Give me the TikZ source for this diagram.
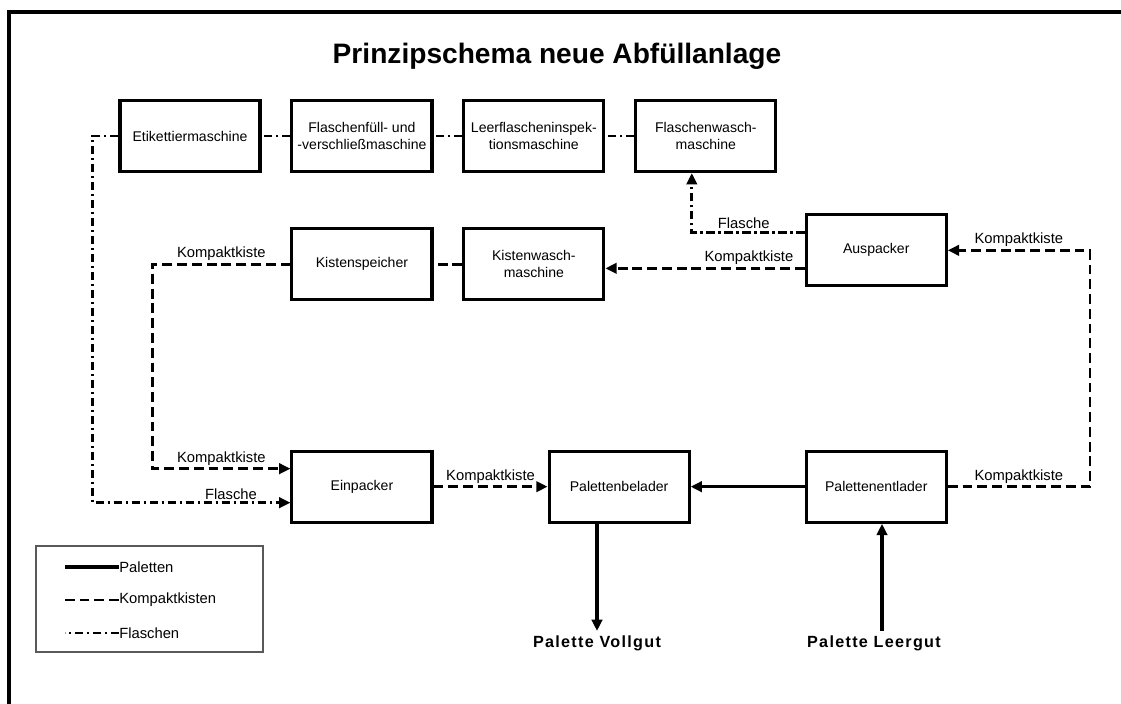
\documentclass[tikz,border=0pt]{standalone}
\usepackage{fontspec}
\setmainfont{Liberation Sans}
\newfontfamily\sperrfont[LetterSpace=8.0]{Liberation Sans}
\usetikzlibrary{arrows.meta, positioning}
\tikzset{
  maschine/.style={rectangle, draw, line width=2.2pt, minimum width=3.5cm, minimum height=1.78cm,
                   align=center, inner sep=2pt, font=\fontsize{10}{12}\selectfont},
  fluss/.style={line width=1.9pt},
  paletten/.style={line width=2.5pt},
  kisten/.style={fluss, dash pattern=on 7pt off 3.5pt},
  flaschen/.style={fluss, dash pattern=on 6pt off 2.5pt on 1.8pt off 2.5pt},
  pfeil/.style={-{Triangle[length=2.8mm, width=2.6mm]}},
  beschr/.style={font=\fontsize{10.5}{12}\selectfont, inner sep=1.5pt},
  ziel/.style={font=\sperrfont\bfseries\fontsize{11.5}{13}\selectfont, inner sep=3pt},
  legende/.style={font=\fontsize{10.5}{12}\selectfont, inner sep=0pt, anchor=west},
}
\begin{document}
\begin{tikzpicture}[x=0.025cm, y=-0.025cm, node distance=0.72cm]
    \useasboundingbox (0,0) rectangle (1121,704);
    \draw[line width=2.2pt] (9,704) -- (9,12) -- (1121,12);
    \node[font=\bfseries\fontsize{20}{24}\selectfont] (titel) at (557,56) {Prinzipschema neue Abfüllanlage};

    % Flaschen oben
    \node[maschine] (etik) at (190,136) {Etikettiermaschine};
    \node[maschine, right=of etik] (fuell) {Flaschenfüll- und\\-verschließmaschine};
    \node[maschine, right=of fuell] (leer) {Leerflascheninspek-\\tionsmaschine};
    \node[maschine, right=of leer] (fwasch) {Flaschenwasch-\\maschine};
    % Kisten
    \node[maschine, below=1.35cm of fuell] (kspeicher) {Kistenspeicher};
    \node[maschine, right=of kspeicher] (kwasch) {Kistenwasch-\\maschine};
    % Paletten unten
    \node[maschine, below=3.7cm of kspeicher] (einp) {Einpacker};
    \node[maschine, right=2.85cm of einp] (belader) {Palettenbelader};
    \node[maschine, right=2.85cm of belader] (entlader) {Palettenentlader};
    \node[maschine, above=4.05cm of entlader] (ausp) {Auspacker};
    \node[ziel] (vollgut) at (597,643) {Palette Vollgut};
    \node[ziel] (leergut) at (874,643) {Palette Leergut};

    \draw[flaschen] (fwasch) -- (leer); \draw[flaschen] (leer) -- (fuell); \draw[flaschen] (fuell) -- (etik);
    \draw[flaschen,pfeil] (etik.west) -- ++(-0.65cm,0) |- ([yshift=-0.4cm]einp.west)
        node[beschr, above, pos=0.85] {Flasche};
    \draw[kisten] (kwasch) -- (kspeicher);
    \draw[kisten,pfeil] (kspeicher.west) -- ++(-3.45cm,0) node[beschr, above, pos=0.5] {Kompaktkiste}
        |- ([yshift=0.45cm]einp.west) node[beschr, above, pos=0.75] {Kompaktkiste};
    \draw[kisten,pfeil] (einp) -- (belader) node[beschr, above, midway] {Kompaktkiste};
    \draw[paletten,pfeil] (entlader) -- (belader);
    \draw[paletten,pfeil] (belader.south -| vollgut.north) -- (vollgut.north);
    \draw[paletten,pfeil] ([xshift=0.2cm]leergut.north) -- ([xshift=0.2cm]leergut.north |- entlader.south);
    \draw[kisten,pfeil] (entlader.east) -- ++(3.55cm,0) node[beschr, above, pos=0.5] {Kompaktkiste}
        |- (ausp.east) node[beschr, above, pos=0.75] {Kompaktkiste};
    \draw[kisten,pfeil] ([yshift=-0.45cm]ausp.west) -- ([yshift=-0.45cm]ausp.west -| kwasch.east)
        node[beschr, above, pos=0.28] {Kompaktkiste};
    \draw[flaschen,pfeil] ([yshift=0.45cm]ausp.west) -| ([xshift=-0.35cm]fwasch.south)
        node[beschr, above, pos=0.27] {Flasche};

    % Legende
    \draw[gray!70!black, line width=0.8pt] (36,546) rectangle (263,652);
    \node[legende] (lpal) at (119,567) {Paletten};
    \node[legende] (lkis) at (119,600) {Kompaktkisten};
    \node[legende] (lfla) at (119,633) {Flaschen};
    \draw[paletten] (lpal.west) -- ++(-1.35cm,0);
    \draw[kisten] (lkis.west) -- ++(-1.35cm,0);
    \draw[flaschen] (lfla.west) -- ++(-1.35cm,0);
\end{tikzpicture}
\end{document}
